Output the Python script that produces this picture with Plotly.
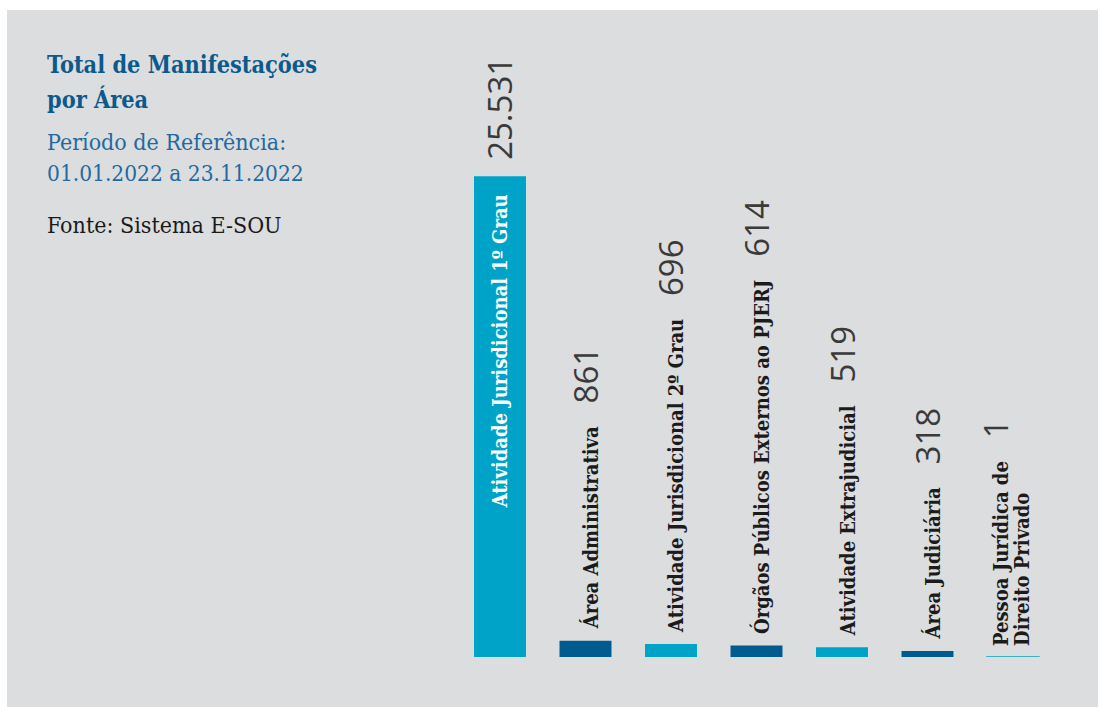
import plotly.graph_objects as go

# Manifestações por área (01.01.2022 a 23.11.2022)
categorias = [
    "Atividade Jurisdicional 1º Grau",
    "Área Administrativa",
    "Atividade Jurisdicional 2º Grau",
    "Órgãos Públicos Externos ao PJERJ",
    "Atividade Extrajudicial",
    "Área Judiciária",
    "Pessoa Jurídica de<br>Direito Privado",
]
valores = [25531, 861, 696, 614, 519, 318, 1]
cores = ["#00A3C8", "#005B8E", "#00A3C8", "#005B8E", "#00A3C8", "#005B8E", "#00A3C8"]

W, H = 1100, 707
BG = "#DCDDDF"
SERIF = "DejaVu Serif Condensed, DejaVu Serif, serif"
SANS = "Open Sans, sans-serif"
NUM_SIZE = 33
NUM_COLOR = "#3a3a3a"
NUM_STYLE = f"font-family:Open Sans;font-size:{NUM_SIZE}px;color:{NUM_COLOR};font-weight:normal"
LABEL_SIZE = 20
LINE_GAP = 19  # distance between wrapped label lines (px)
FIRST_LINE_OFFSET = -8  # first line also carries the taller value text
NBSP = "\u00a0"


def fmt(v):
    return f"{v:,}".replace(",", ".")


def px(x):
    return x / W


def py(y):
    return 1 - y / H


xs = list(range(len(categorias)))

fig = go.Figure()
fig.add_trace(go.Bar(
    x=xs,
    y=valores,
    marker=dict(
        color=cores,
        line=dict(color=cores, width=[0, 0, 0, 0, 0, 0, 1.5]),
    ),
    hoverinfo="skip",
))

annotations = []

# largest bar: value above, category inside the bar
annotations.append(dict(
    x=xs[0], y=valores[0], xref="x", yref="y",
    text=fmt(valores[0]), textangle=-90, showarrow=False,
    xanchor="center", yanchor="bottom", yshift=14,
    font=dict(family=SANS, size=NUM_SIZE, color=NUM_COLOR),
))
annotations.append(dict(
    x=xs[0], y=valores[0], xref="x", yref="y",
    text=f"<b>{categorias[0]}</b>", textangle=-90, showarrow=False,
    xanchor="center", yanchor="top", yshift=-16,
    font=dict(family=SERIF, size=LABEL_SIZE, color="#FFFFFF"),
))

# remaining bars: category then value, stacked above the bar
for i in range(1, len(categorias)):
    linhas = categorias[i].split("<br>")
    n = len(linhas)
    numero = f'<span style="{NUM_STYLE}">{fmt(valores[i])}</span>'
    for k, linha in enumerate(linhas):
        texto = f"<b>{linha}</b>"
        if k == 0:
            texto += f"{NBSP * 4}{numero}"
        shift = (k - (n - 1) / 2) * LINE_GAP
        if n > 1 and k == 0:
            shift += FIRST_LINE_OFFSET
        annotations.append(dict(
            x=xs[i], y=valores[i], xref="x", yref="y",
            text=texto, textangle=-90, showarrow=False,
            xanchor="center", yanchor="bottom", yshift=9, xshift=shift,
            font=dict(family=SERIF, size=LABEL_SIZE, color="#1B1B1B"),
        ))

# header block on the left
TITLE_BLUE = "#0C5A8C"
SUB_BLUE = "#24699E"
header = [
    ("<b>Total de Manifestações</b>", 64, 23.3, TITLE_BLUE),
    ("<b>por Área</b>", 99, 23.3, TITLE_BLUE),
    ("Período de Referência:", 142, 23, SUB_BLUE),
    ("01.01.2022 a 23.11.2022", 173, 22.5, SUB_BLUE),
    ("Fonte: Sistema E-SOU", 225, 23, "#1A1A1A"),
]
for txt, y, size, color in header:
    annotations.append(dict(
        x=px(45), y=py(y), xref="paper", yref="paper",
        text=txt, showarrow=False, xanchor="left", yanchor="middle",
        font=dict(family=SERIF, size=size, color=color),
    ))

fig.update_layout(
    width=W, height=H,
    margin=dict(l=0, r=0, t=0, b=0),
    paper_bgcolor="#FFFFFF",
    plot_bgcolor="rgba(0,0,0,0)",
    showlegend=False,
    bargap=0.392,
    xaxis=dict(
        domain=[457.25 / W, 1055.75 / W],
        range=[-0.5, len(categorias) - 0.5],
        visible=False,
        fixedrange=True,
    ),
    yaxis=dict(
        domain=[50 / H, 1],
        range=[0, 34900],
        visible=False,
        fixedrange=True,
    ),
    shapes=[dict(
        type="rect", xref="paper", yref="paper", layer="below",
        x0=px(7), x1=px(1098), y0=0, y1=py(10),
        fillcolor=BG, line=dict(width=0),
    )],
    annotations=annotations,
)

fig.write_html("out.html")
